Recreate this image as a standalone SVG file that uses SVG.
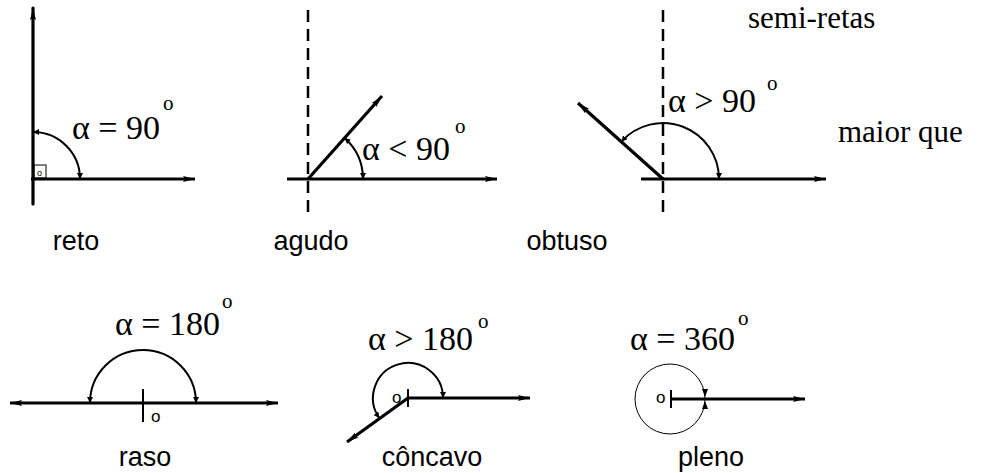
<svg xmlns="http://www.w3.org/2000/svg" width="983" height="473" viewBox="0 0 983 473">
<style>
.ray{stroke:#000;stroke-width:3.2;fill:none}
.arc{stroke:#000;stroke-width:2;fill:none}
.dash{stroke:#000;stroke-width:2.5;stroke-dasharray:12 7;fill:none}
.thin{stroke:#000;stroke-width:1;fill:none}
.tick{stroke:#000;stroke-width:2}
.eq{font-family:"Liberation Serif","Times New Roman",serif;font-size:34px;fill:#000}
.deg{font-family:"Liberation Serif","Times New Roman",serif;font-size:21px;fill:#000}
.lbl{font-family:"Liberation Sans",Arial,sans-serif;font-size:27px;fill:#000;text-anchor:middle}
.note{font-family:"Liberation Serif","Times New Roman",serif;font-size:31px;fill:#000}
.o{font-family:"Liberation Sans",Arial,sans-serif;font-size:17px;fill:#000}
</style>
<defs>
<marker id="arr" markerUnits="userSpaceOnUse" markerWidth="14" markerHeight="8" refX="12" refY="4" orient="auto-start-reverse">
<path d="M0,1 L12,4 L0,7 L2,4 Z" fill="#000"/>
</marker>
<marker id="sa" markerUnits="userSpaceOnUse" markerWidth="8" markerHeight="6" refX="6" refY="3" orient="auto-start-reverse">
<path d="M0,0 L6,3 L0,6 Z" fill="#000"/>
</marker>
</defs>

<g id="connectors">
<!-- reto -->
<line class="ray" x1="33" y1="204" x2="33" y2="8" marker-end="url(#arr)" stroke-linecap="round"/>
<line class="ray" x1="31" y1="179" x2="195" y2="179" marker-end="url(#arr)"/>
<path class="arc" d="M33,132 A47,47 0 0 1 80,179" marker-start="url(#sa)" marker-end="url(#sa)"/>
<!-- agudo -->
<line class="dash" x1="308" y1="10" x2="308" y2="215"/>
<line class="ray" x1="287" y1="179" x2="497" y2="179" marker-end="url(#arr)"/>
<line class="ray" x1="308" y1="179" x2="382" y2="96" marker-end="url(#arr)"/>
<path class="arc" d="M344.6,137.9 A55,55 0 0 1 363,179" marker-start="url(#sa)" marker-end="url(#sa)"/>
<!-- obtuso -->
<line class="dash" x1="663" y1="10" x2="663" y2="215"/>
<line class="ray" x1="641" y1="179" x2="826" y2="179" marker-end="url(#arr)"/>
<line class="ray" x1="663" y1="179" x2="578" y2="103" marker-end="url(#arr)"/>
<path class="arc" d="M621.3,141.7 A56,56 0 0 1 719,179" marker-start="url(#sa)" marker-end="url(#sa)"/>
<!-- raso -->
<line class="ray" x1="10" y1="403" x2="278" y2="403" marker-start="url(#arr)" marker-end="url(#arr)"/>
<line class="tick" x1="143" y1="389" x2="143" y2="422"/>
<path class="arc" d="M90,403 A53,53 0 0 1 196,403" marker-start="url(#sa)" marker-end="url(#sa)"/>
<!-- concavo -->
<line class="ray" x1="408" y1="398" x2="530" y2="398" marker-end="url(#arr)"/>
<line class="ray" x1="408" y1="398" x2="347" y2="442" marker-end="url(#arr)"/>
<line class="tick" x1="408" y1="389" x2="408" y2="407"/>
<path class="arc" d="M443,398 A35,35 0 1 0 379.4,418.2" marker-start="url(#sa)" marker-end="url(#sa)"/>
<!-- pleno -->
<circle class="thin" cx="670" cy="399" r="35"/>
<line class="ray" x1="671" y1="399" x2="805" y2="399" marker-end="url(#arr)"/>
<line class="tick" x1="671" y1="390" x2="671" y2="408"/>
<path d="M702,389 L708,389 L705,397 Z M702,409 L708,409 L705,401 Z" fill="#000"/>
</g>

<g id="reto">
<rect class="thin" x="34" y="165" width="12" height="13"/>
<text x="37" y="176" style="font-family:'Liberation Sans',Arial,sans-serif;font-size:9px">o</text>
<text class="eq" x="72" y="139">α = 90</text>
<text class="deg" x="163" y="110">o</text>
<text class="lbl" x="76" y="250">reto</text>
</g>

<g id="agudo">
<text class="eq" x="362" y="160">α &lt; 90</text>
<text class="deg" x="455" y="133">o</text>
<text class="lbl" x="311" y="250">agudo</text>
</g>

<g id="obtuso">
<text class="eq" x="668" y="112">α &gt; 90</text>
<text class="deg" x="767" y="90">o</text>
<text class="lbl" x="567" y="250">obtuso</text>
</g>

<g id="notes">
<text class="note" x="748" y="28">semi-retas</text>
<text class="note" x="838" y="142">maior que</text>
</g>

<g id="raso">
<text class="eq" x="115" y="335">α = 180</text>
<text class="deg" x="222" y="308">o</text>
<text class="o" x="151" y="422">o</text>
<text class="lbl" x="145" y="466">raso</text>
</g>

<g id="concavo">
<text class="eq" x="368" y="350">α &gt; 180</text>
<text class="deg" x="478" y="328">o</text>
<text class="o" x="392" y="403">o</text>
<text class="lbl" x="432" y="466">côncavo</text>
</g>

<g id="pleno">
<text class="eq" x="630" y="350">α = 360</text>
<text class="deg" x="738" y="325">o</text>
<text class="o" x="656" y="403">o</text>
<text class="lbl" x="711" y="466">pleno</text>
</g>
</svg>
